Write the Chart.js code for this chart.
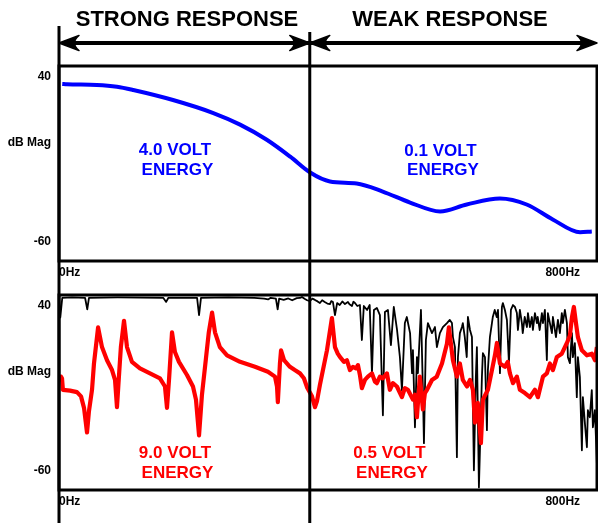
<!DOCTYPE html>
<html><head><meta charset="utf-8">
<script src="https://cdn.jsdelivr.net/npm/chart.js@4.4.0/dist/chart.umd.min.js"></script>
<style>
html,body{margin:0;padding:0;background:#fff;}
body{width:598px;height:523px;overflow:hidden;position:relative;}
canvas{position:absolute;left:0;}
#c1{top:0;} #c2{top:290px;}
</style>
</head><body>
<canvas id="c1" width="598" height="290" style="width:598px;height:290px"></canvas>
<canvas id="c2" width="598" height="233" style="width:598px;height:233px"></canvas>
<script>
// ---------- data ----------
const xTickValues = [0, 800];
const xTickLabels = ['0Hz', '800Hz'];
const yTickValues = [-60, 0, 40];
const yTickLabels = ['-60', 'dB Mag', '40'];
const dividerHz = 385;
const headerTexts = ['STRONG RESPONSE', 'WEAK RESPONSE'];
const topNotes = [['4.0 VOLT', 'ENERGY'], ['0.1 VOLT', 'ENERGY']];
const bottomNotes = [['9.0 VOLT', 'ENERGY'], ['0.5 VOLT', 'ENERGY']];

// 4.0 / 0.1 volt response (blue)
const blueHz = [5, 12, 58, 89, 114, 175, 236, 278, 319, 355, 385, 416, 457, 497, 539, 585, 626, 677, 718, 758, 800, 818];
const blueDb = [35.8, 35.6, 35.2, 34.1, 32.1, 26, 18.2, 11, 1.8, -8.5, -18, -23.6, -24.8, -29.7, -36.4, -41.8, -37.6, -34, -37.6, -46.7, -54.5, -54];

// 9.0 / 0.5 volt response (red)
const redHz = [
 1.5,3,4.6,6,17,27.6,33.8,38.4,43,46,
 50.7,53.7,58.3,60,66,73.7,81.4,86,89,92,
 95,99.8,104.4,112,124.3,139.7,155,162.7,165.8,168.9,
 173.5,178,184.2,196.5,205.7,210.3,215,219.5,225.6,230,
 235,239.5,247,258,278,300.9,320.8,331.6,334.7,336,
 339.2,340.9,345.5,354.5,362,370,376,380.7,388.4,393,
 396,400.6,411.4,419,423.7,428,431.3,437.5,442,446.7,
 451.3,456,459,462,465,469.7,474.3,480.5,485,488,
 492.7,497.3,503.5,508,512.7,518.8,526.5,531,535.7,543.4,
 546.5,549.5,554,558.7,561.8,565,572.6,580,588,595.6,
 598.6,604.8,611,615.5,620,626.3,631,635.5,638.6,643,
 647.8,650.8,658.5,664.7,669.3,672.3,677,684.6,689,692.3,
 697,703,707.6,715.3,723,730.7,735.3,743,749,753.7,
 758.3,764.4,772,779.8,784.4,787.5,790.5,793.6,796.7,802.8,
 810.5,818,822.8,825.8];
const redDb = [
 -6,-3,-4,-11,-11.5,-12.4,-15,-22,-37,-24,
 -11,5,21,27,15,7,1,-5,-21.6,-3,
 15,31,15,6,2,-1,-4,-9,-22,-5,
 24,12,6,-2,-9,-17,-38.7,-14,8,24,
 36,24,15,10,6,3,0,-3,-9,-18.5,
 5,13,7,3,1,-1,-4,-9.4,-15,-21.6,
 -18,-8,13,32.7,15,11,9,6,7,1,
 3,2,4,-2,-10,-5,-3,-1,-6,-7,
 -3,-4,-1,-11,-7,-9,-15.5,-10,-11,-17,
 -14,-27.7,-3,-23,-13,-11,-5,-3,5,17,
 27,7,-3,5,-5,-9,-5,-11,-31,-19,
 -43.5,-17,-11,1,10,17.5,5,3,6,-1,
 -7,-3,-11,-13,-15.5,-11,-15.5,-3,-1,5,
 1,9,11,17.5,22,33,39.4,30,21,13,
 10,11,7,15];

// reference response (black)
const blackHz = [
 0,2,5,20,40,43.4,46,90,160,164.5,168,212,215,218,260,300,315,321,325,333,335.7,338,345,352,358,365,
 370,373,377.6,381,385,389,393,397,400.6,404,408,412,416,418,420.6,423.7,427,431,435,439,443.6,446,449.8,452,454.4,458,462,
 465,468,473,477,480.5,
 483.5,488,492.7,497.3,500.4,505,509.6,514,519,523.4,
 526.5,531,534,539,542,543.4,546.5,549.5,551,555.7,
 558.7,560.3,563.3,566.4,572.6,577.2,580.2,584.8,589.4,595.6,
 600,603.3,604.8,607.9,610.9,612.5,615.5,618.6,620,623,
 626,627.8,631,634,637,640,641.6,644.7,649.3,650.8,
 654,657,658.5,661.6,664.7,666,669,672,674,677,
 680,681.5,684.6,687.7,690.8,693.8,697,700,703,704.6,
 707.6,710.7,712,715,718.4,720,723,726,727.6,730.7,
 733.7,735,738,741.4,743,746,749,750.6,753.7,756.8,
 758.3,763,766,769,772,773.6,776.7,779.8,781.3,784.4,
 787.5,789,792,795,796.7,799.7,802.8,804.3,807.4,810.5,
 812,815,818,819.7,822.8,825.8];
const blackDb = [
 46,33,45,45.2,45,38,45,45.2,45,42.5,45,45,34.5,45,45.3,45,44.5,44,45,44.5,38,44.5,43.8,44.6,43.5,44.8,
 44.9,45.5,44.3,43.5,43,44.5,43.7,42.8,41.8,43.5,42.4,41.5,41.2,43,42.4,34.5,41.8,40.6,42.8,41.2,42.4,41,40,42.6,41.8,40,40.6,
 19.3,40,37.6,40.6,-0.9,
 37.6,38.8,34.5,-26.5,36.3,37.6,16.2,39.4,25.4,8.9,
 -11.2,29.6,33.3,23.5,-0.9,13.2,-33.8,8.9,-0.9,37.6,
 -11.2,-43.5,19.3,29.6,23.5,27.2,15,23.5,27.2,29.6,
 31.5,29.6,21.1,15,-52,8.9,23.5,27.2,29.6,21.1,
 8.9,33.3,25.4,21.1,-60,-3.3,15,-70.4,-3.3,11.3,
 8.9,-35.6,1,21.1,29.6,33.3,37.6,33.3,37.6,-0.9,
 39.4,41.8,37.6,31.5,5.2,37.6,40.6,39.4,35.7,25.4,
 37.6,29.6,23.5,33.3,27.2,35.7,27.2,33.3,25.4,35.7,
 29.6,33.3,25.4,35.7,29.6,37.6,7.1,35.7,29.6,23.5,
 33.3,21.1,31.5,23.5,35.7,29.6,37.6,29.6,8.9,5.2,
 23.5,8.9,17.4,-15.5,8.9,-3.3,-47.8,-15.5,-31.3,-46,
 -23.4,-27.7,-11.2,-33.8,-23.4,-55.7];

// ---------- helpers ----------
const pts = (xs, ys) => xs.map((x, i) => ({x: x, y: ys[i]}));
const FONT = '"Liberation Sans", Arial, Helvetica, sans-serif';
Chart.defaults.font.family = FONT;
Chart.defaults.color = '#000';

function arrowHead(ctx, tipX, y, dir) {
  const L = 20, W = 7.5;
  ctx.beginPath();
  ctx.moveTo(tipX, y);
  ctx.lineTo(tipX - dir * L, y - W);
  ctx.quadraticCurveTo(tipX - dir * L * 0.55, y, tipX - dir * L, y + W);
  ctx.closePath();
  ctx.fill();
  ctx.stroke();
}

const deco = {
  id: 'deco',
  afterDraw(chart, args, o) {
    const ctx = chart.ctx, a = chart.chartArea, xs = chart.scales.x;
    const H = chart.height;
    const dx = xs.getPixelForValue(dividerHz);
    ctx.save();
    ctx.strokeStyle = '#000';
    ctx.fillStyle = '#000';
    ctx.lineWidth = 3;
    ctx.strokeRect(a.left, a.top, a.right - a.left, a.bottom - a.top);
    ctx.beginPath();
    ctx.moveTo(a.left, o.leftTop); ctx.lineTo(a.left, H);
    ctx.moveTo(dx, o.divTop); ctx.lineTo(dx, H);
    ctx.stroke();
    if (o.header) {
      const y = 43;
      ctx.lineWidth = 4;
      ctx.beginPath();
      ctx.moveTo(a.left + 6, y); ctx.lineTo(a.right - 6, y);
      ctx.stroke();
      ctx.lineWidth = 1.5; ctx.lineJoin = 'round';
      arrowHead(ctx, a.left, y, -1);
      arrowHead(ctx, dx, y, 1);
      arrowHead(ctx, dx, y, -1);
      arrowHead(ctx, a.right, y, 1);
      ctx.font = 'bold 22px ' + FONT;
      ctx.textAlign = 'center';
      ctx.textBaseline = 'middle';
      ctx.fillText(headerTexts[0], 187, 20);
      ctx.fillText(headerTexts[1], 450, 20);
    }
    ctx.font = 'bold 17px ' + FONT;
    ctx.textAlign = 'center';
    ctx.textBaseline = 'middle';
    ctx.fillStyle = o.noteColor;
    o.notes.forEach((lines, i) => {
      const p = o.notePos[i];
      ctx.fillText(lines[0], p[0], p[1]);
      ctx.fillText(lines[1], p[0] + 2.5, p[1] + 19.5);
    });
    ctx.restore();
  }
};

function scalesFor(xHeight) {
  return {
    x: {
      type: 'linear', min: 0, max: 826,
      afterBuildTicks: s => { s.ticks = xTickValues.map(v => ({value: v})); },
      afterFit: s => { s.height = xHeight; s.paddingLeft = 0; s.paddingRight = 0; },
      grid: {display: false, drawTicks: false},
      border: {display: false},
      ticks: {
        align: 'inner', maxRotation: 0, autoSkip: false, padding: 4,
        font: {size: 12, weight: 'bold'}, color: '#000',
        callback: (v, i) => xTickLabels[i]
      }
    },
    y: {
      type: 'linear', min: -72.0, max: 46.7,
      afterBuildTicks: s => { s.ticks = yTickValues.map(v => ({value: v})); },
      afterFit: s => { s.width = 59; s.paddingTop = 0; s.paddingBottom = 0; },
      grid: {display: false, drawTicks: false},
      border: {display: false},
      ticks: {
        autoSkip: false, padding: 8,
        font: {size: 12, weight: 'bold'}, color: '#000',
        callback: (v, i) => yTickLabels[i]
      }
    }
  };
}

const common = {
  responsive: false, animation: false, devicePixelRatio: 1,
  events: [],
};

new Chart(document.getElementById('c1'), {
  type: 'line',
  data: {datasets: [{
    data: pts(blueHz, blueDb), borderColor: '#0000ff', borderWidth: 4,
    pointRadius: 0, tension: 0.4, fill: false, cubicInterpolationMode: 'monotone'
  }]},
  options: Object.assign({}, common, {
    layout: {padding: {top: 66, right: 1, left: 0, bottom: 0}},
    scales: scalesFor(29),
    plugins: {
      legend: {display: false}, tooltip: {enabled: false},
      deco: {header: true, leftTop: 26, divTop: 32, notes: topNotes,
             notePos: [[175, 150.5], [440.5, 151]], noteColor: '#0000ff'}
    }
  }),
  plugins: [deco]
});

new Chart(document.getElementById('c2'), {
  type: 'line',
  data: {datasets: [
    {data: pts(redHz, redDb), borderColor: '#ff0000', borderWidth: 4.2,
     pointRadius: 0, tension: 0, fill: false, borderJoinStyle: 'round'},
    {data: pts(blackHz, blackDb), borderColor: '#000000', borderWidth: 1.8,
     pointRadius: 0, tension: 0, fill: false, borderJoinStyle: 'round'}
  ]},
  options: Object.assign({}, common, {
    layout: {padding: {top: 5, right: 1, left: 0, bottom: 0}},
    scales: scalesFor(33),
    plugins: {
      legend: {display: false}, tooltip: {enabled: false},
      deco: {header: false, leftTop: 0, divTop: 0, notes: bottomNotes,
             notePos: [[175, 163.5], [389.5, 163.5]], noteColor: '#ff0000'}
    }
  }),
  plugins: [deco]
});
</script>
</body></html>
